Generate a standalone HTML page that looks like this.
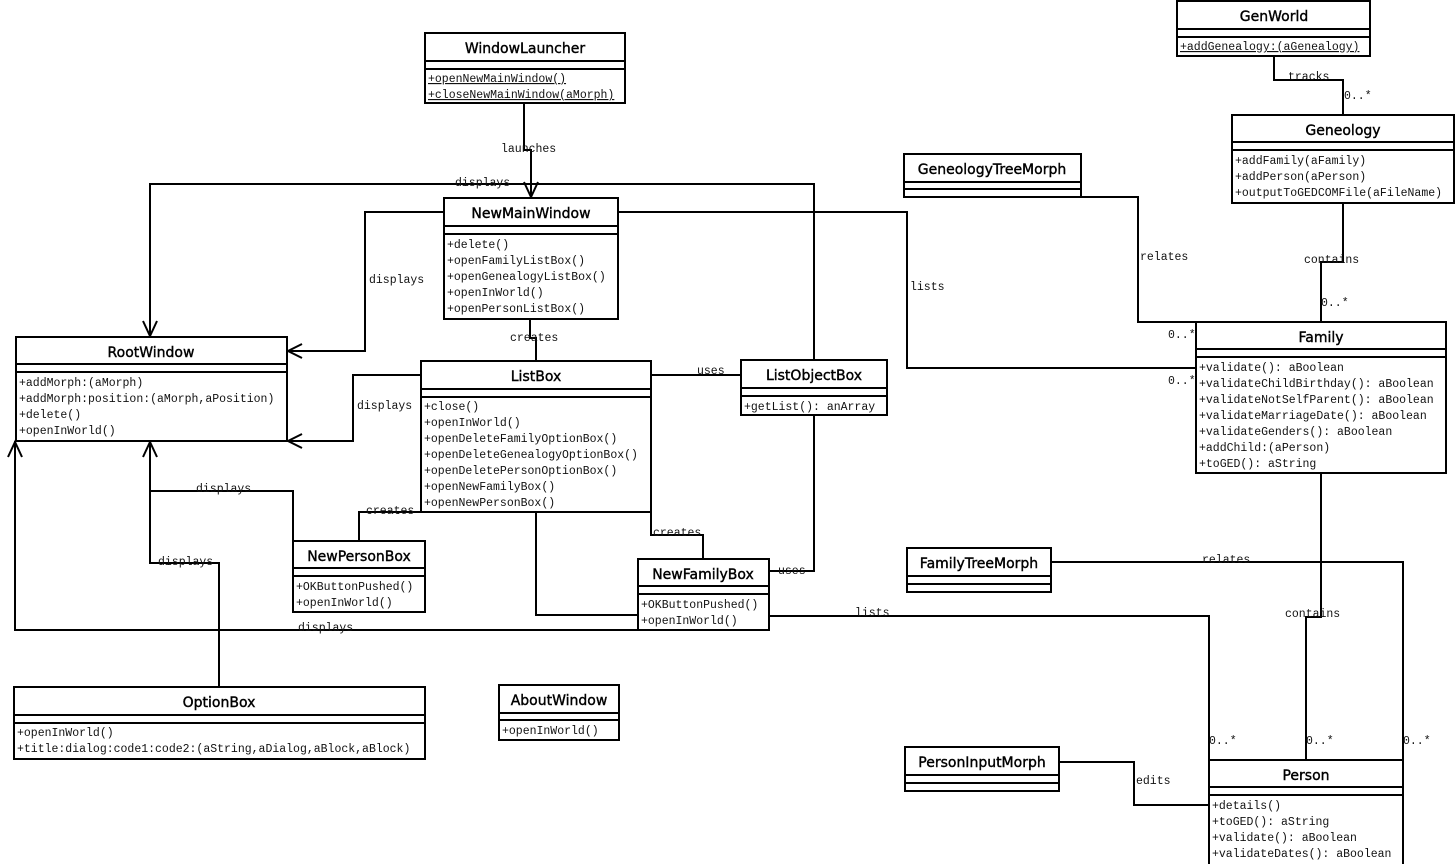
<!DOCTYPE html>
<html><head><meta charset="utf-8"><style>
html,body{margin:0;padding:0;background:#fff;}
svg{display:block}
.t{font-family:"DejaVu Sans","Liberation Sans",sans-serif;font-size:14px;text-anchor:middle;fill:#000;stroke:#000;stroke-width:0.4}
.m{font-family:"Liberation Mono","DejaVu Sans Mono",monospace;font-size:11.5px;fill:#111}
.l{font-family:"Liberation Mono","DejaVu Sans Mono",monospace;font-size:11.5px;fill:#111}
.u{text-decoration:underline}
rect{fill:#fff;stroke:#000;stroke-width:2}
.ln{fill:none;stroke:#000;stroke-width:2}
</style></head><body>
<svg width="1455" height="864" viewBox="0 0 1455 864" xmlns="http://www.w3.org/2000/svg">
<g class="ln">
<polyline points="524,103 524,150 531,150 531,198"/>
<polyline points="814,360 814,184 150,184 150,337"/>
<polyline points="444,212 365,212 365,351 287,351"/>
<polyline points="618,212 907,212 907,368 1196,368"/>
<polyline points="530,319 530,338 536,338 536,361"/>
<polyline points="421,375 353,375 353,441 287,441"/>
<polyline points="651,375 741,375"/>
<polyline points="814,415 814,571 769,571"/>
<polyline points="421,512 359,512 359,541"/>
<polyline points="651,512 651,535 703,535 703,559"/>
<polyline points="536,512 536,615 638,615"/>
<polyline points="293,541 293,491 150,491 150,441"/>
<polyline points="219,687 219,563 150,563 150,491"/>
<polyline points="638,630 15,630 15,441"/>
<polyline points="769,616 1209,616 1209,760"/>
<polyline points="1081,197 1138,197 1138,322 1196,322"/>
<polyline points="1343,203 1343,262 1321,262 1321,322"/>
<polyline points="1274,56 1274,80 1343,80 1343,115"/>
<polyline points="1321,473 1321,617 1306,617 1306,760"/>
<polyline points="1051,562 1403,562 1403,760"/>
<polyline points="1059,762 1134,762 1134,805 1209,805"/>
<polyline points="524,182 531,197 538,182"/>
<polyline points="143,321 150,336 157,321"/>
<polyline points="302,344 288,351 302,358"/>
<polyline points="302,434 288,441 302,448"/>
<polyline points="143,457 150,442 157,457"/>
<polyline points="8,457 15,442 22,457"/>
</g>
<g class="l">
<text x="501" y="152">launches</text>
<text x="455" y="186">displays</text>
<text x="369" y="283">displays</text>
<text x="910" y="290">lists</text>
<text x="510" y="341">creates</text>
<text x="357" y="409">displays</text>
<text x="697" y="374">uses</text>
<text x="778" y="574">uses</text>
<text x="366" y="514">creates</text>
<text x="653" y="536">creates</text>
<text x="196" y="492">displays</text>
<text x="158" y="565">displays</text>
<text x="298" y="631">displays</text>
<text x="855" y="616">lists</text>
<text x="1140" y="260">relates</text>
<text x="1304" y="263">contains</text>
<text x="1288" y="80">tracks</text>
<text x="1285" y="617">contains</text>
<text x="1202" y="563">relates</text>
<text x="1136" y="784">edits</text>
<text x="1344" y="99">0..*</text>
<text x="1321" y="306">0..*</text>
<text x="1168" y="338">0..*</text>
<text x="1168" y="384">0..*</text>
<text x="1209" y="744">0..*</text>
<text x="1306" y="744">0..*</text>
<text x="1403" y="744">0..*</text>
</g>

<rect x="425" y="33" width="200" height="70"/>
<line class="ln" x1="425" y1="61" x2="625" y2="61"/><line class="ln" x1="425" y1="69" x2="625" y2="69"/>
<text class="t" x="525" y="53">WindowLauncher</text>
<text class="m u" x="428" y="82">+openNewMainWindow()</text>
<text class="m u" x="428" y="98">+closeNewMainWindow(aMorph)</text>

<rect x="1177" y="1" width="193" height="55"/>
<line class="ln" x1="1177" y1="29" x2="1370" y2="29"/><line class="ln" x1="1177" y1="37" x2="1370" y2="37"/>
<text class="t" x="1274" y="21">GenWorld</text>
<text class="m u" x="1180" y="50">+addGenealogy:(aGenealogy)</text>

<rect x="1232" y="115" width="222" height="88"/>
<line class="ln" x1="1232" y1="142" x2="1454" y2="142"/><line class="ln" x1="1232" y1="150" x2="1454" y2="150"/>
<text class="t" x="1343" y="135">Geneology</text>
<text class="m" x="1235" y="164">+addFamily(aFamily)</text>
<text class="m" x="1235" y="180">+addPerson(aPerson)</text>
<text class="m" x="1235" y="196">+outputToGEDCOMFile(aFileName)</text>

<rect x="904" y="154" width="177" height="43"/>
<line class="ln" x1="904" y1="182" x2="1081" y2="182"/><line class="ln" x1="904" y1="189" x2="1081" y2="189"/>
<text class="t" x="992" y="174">GeneologyTreeMorph</text>

<rect x="444" y="198" width="174" height="121"/>
<line class="ln" x1="444" y1="226" x2="618" y2="226"/><line class="ln" x1="444" y1="234" x2="618" y2="234"/>
<text class="t" x="531" y="218">NewMainWindow</text>
<text class="m" x="447" y="248">+delete()</text>
<text class="m" x="447" y="264">+openFamilyListBox()</text>
<text class="m" x="447" y="280">+openGenealogyListBox()</text>
<text class="m" x="447" y="296">+openInWorld()</text>
<text class="m" x="447" y="312">+openPersonListBox()</text>

<rect x="16" y="337" width="271" height="104"/>
<line class="ln" x1="16" y1="364" x2="287" y2="364"/><line class="ln" x1="16" y1="372" x2="287" y2="372"/>
<text class="t" x="151" y="357">RootWindow</text>
<text class="m" x="19" y="386">+addMorph:(aMorph)</text>
<text class="m" x="19" y="402">+addMorph:position:(aMorph,aPosition)</text>
<text class="m" x="19" y="418">+delete()</text>
<text class="m" x="19" y="434">+openInWorld()</text>

<rect x="421" y="361" width="230" height="151"/>
<line class="ln" x1="421" y1="389" x2="651" y2="389"/><line class="ln" x1="421" y1="397" x2="651" y2="397"/>
<text class="t" x="536" y="381">ListBox</text>
<text class="m" x="424" y="410">+close()</text>
<text class="m" x="424" y="426">+openInWorld()</text>
<text class="m" x="424" y="442">+openDeleteFamilyOptionBox()</text>
<text class="m" x="424" y="458">+openDeleteGenealogyOptionBox()</text>
<text class="m" x="424" y="474">+openDeletePersonOptionBox()</text>
<text class="m" x="424" y="490">+openNewFamilyBox()</text>
<text class="m" x="424" y="506">+openNewPersonBox()</text>

<rect x="741" y="360" width="146" height="55"/>
<line class="ln" x1="741" y1="388" x2="887" y2="388"/><line class="ln" x1="741" y1="396" x2="887" y2="396"/>
<text class="t" x="814" y="380">ListObjectBox</text>
<text class="m" x="744" y="410">+getList(): anArray</text>

<rect x="1196" y="322" width="250" height="151"/>
<line class="ln" x1="1196" y1="349" x2="1446" y2="349"/><line class="ln" x1="1196" y1="357" x2="1446" y2="357"/>
<text class="t" x="1321" y="342">Family</text>
<text class="m" x="1199" y="371">+validate(): aBoolean</text>
<text class="m" x="1199" y="387">+validateChildBirthday(): aBoolean</text>
<text class="m" x="1199" y="403">+validateNotSelfParent(): aBoolean</text>
<text class="m" x="1199" y="419">+validateMarriageDate(): aBoolean</text>
<text class="m" x="1199" y="435">+validateGenders(): aBoolean</text>
<text class="m" x="1199" y="451">+addChild:(aPerson)</text>
<text class="m" x="1199" y="467">+toGED(): aString</text>

<rect x="293" y="541" width="132" height="71"/>
<line class="ln" x1="293" y1="568" x2="425" y2="568"/><line class="ln" x1="293" y1="576" x2="425" y2="576"/>
<text class="t" x="359" y="561">NewPersonBox</text>
<text class="m" x="296" y="590">+OKButtonPushed()</text>
<text class="m" x="296" y="606">+openInWorld()</text>

<rect x="638" y="559" width="131" height="71"/>
<line class="ln" x1="638" y1="586" x2="769" y2="586"/><line class="ln" x1="638" y1="594" x2="769" y2="594"/>
<text class="t" x="703" y="579">NewFamilyBox</text>
<text class="m" x="641" y="608">+OKButtonPushed()</text>
<text class="m" x="641" y="624">+openInWorld()</text>

<rect x="907" y="548" width="144" height="44"/>
<line class="ln" x1="907" y1="576" x2="1051" y2="576"/><line class="ln" x1="907" y1="584" x2="1051" y2="584"/>
<text class="t" x="979" y="568">FamilyTreeMorph</text>

<rect x="14" y="687" width="411" height="72"/>
<line class="ln" x1="14" y1="715" x2="425" y2="715"/><line class="ln" x1="14" y1="723" x2="425" y2="723"/>
<text class="t" x="219" y="707">OptionBox</text>
<text class="m" x="17" y="736">+openInWorld()</text>
<text class="m" x="17" y="752">+title:dialog:code1:code2:(aString,aDialog,aBlock,aBlock)</text>

<rect x="499" y="685" width="120" height="55"/>
<line class="ln" x1="499" y1="713" x2="619" y2="713"/><line class="ln" x1="499" y1="720" x2="619" y2="720"/>
<text class="t" x="559" y="705">AboutWindow</text>
<text class="m" x="502" y="734">+openInWorld()</text>

<rect x="905" y="747" width="154" height="44"/>
<line class="ln" x1="905" y1="775" x2="1059" y2="775"/><line class="ln" x1="905" y1="783" x2="1059" y2="783"/>
<text class="t" x="982" y="767">PersonInputMorph</text>

<rect x="1209" y="760" width="194" height="110"/>
<line class="ln" x1="1209" y1="787" x2="1403" y2="787"/><line class="ln" x1="1209" y1="795" x2="1403" y2="795"/>
<text class="t" x="1306" y="780">Person</text>
<text class="m" x="1212" y="809">+details()</text>
<text class="m" x="1212" y="825">+toGED(): aString</text>
<text class="m" x="1212" y="841">+validate(): aBoolean</text>
<text class="m" x="1212" y="857">+validateDates(): aBoolean</text>
</svg>
</body></html>
